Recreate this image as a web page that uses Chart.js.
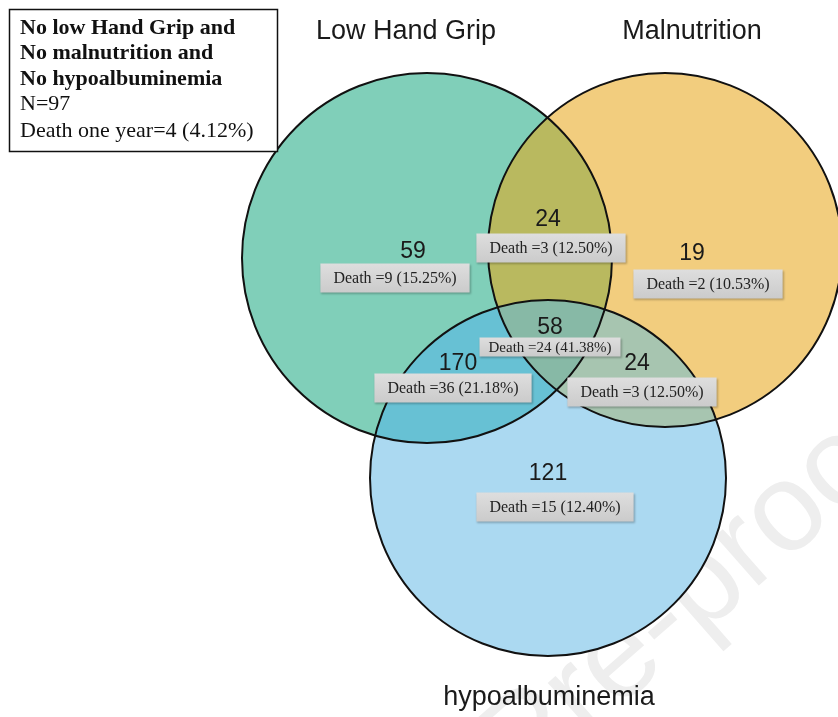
<!DOCTYPE html>
<html>
<head>
<meta charset="utf-8">
<script src="https://cdn.jsdelivr.net/npm/chart.js@4.4.1/dist/chart.umd.min.js"></script>
<style>
html,body{margin:0;padding:0;background:#ffffff;}
#wrap{position:relative;width:838px;height:717px;}
</style>
</head>
<body>
<div id="wrap"><canvas id="c" width="838" height="717"></canvas></div>
<script>
// ---------- DATA ----------
const setNames = ["Low Hand Grip", "Malnutrition", "hypoalbuminemia"];
// regions: G only, G∩M, M only, G∩M∩H, G∩H, M∩H, H only
const regionKeys   = ["G", "GM", "M", "GMH", "GH", "MH", "H"];
const regionCounts = [59, 24, 19, 58, 170, 24, 121];
const regionDeaths = [9, 3, 2, 24, 36, 3, 15];
const regionPcts   = ["15.25%", "12.50%", "10.53%", "41.38%", "21.18%", "12.50%", "12.40%"];
const noneTitle    = ["No low Hand Grip and", "No malnutrition and", "No hypoalbuminemia"];
const noneN        = 97;
const noneDeaths   = 4;
const nonePct      = "4.12%";

// ---------- LAYOUT (geometry, not data) ----------
const circleCenters = [[427, 258], [665, 250], [548, 478]];
const circleRadii   = [185, 177, 178];
const circleFills   = ["#80cfb9", "#f2cd7e", "#abd9f1"];
const overlapFills  = { GM: "#b9b95f", GH: "#67c1d4", MH: "#a7c5b0", GMH: "#87b9a6" };
const setLabelPos   = [[406, 32], [692, 32], [549, 698]];
const countPos      = [[413, 252], [548, 220], [692, 254], [550, 328], [458, 364], [637, 364], [548, 474]];
const boxPos        = [[395, 278], [551, 248], [708, 284], [550, 347], [453, 388], [642, 392], [555, 507]];
const boxSmall      = [false, false, false, true, false, false, false];

const datasets = setNames.map((n, i) => ({
  label: n,
  data: [{ x: circleCenters[i][0], y: circleCenters[i][1], r: circleRadii[i] }],
  backgroundColor: circleFills[i],
  borderWidth: 0,
  hoverBorderWidth: 0,
  hoverRadius: 0,
  clip: false
}));

function circleEls(chart) {
  return [0, 1, 2].map(i => {
    const el = chart.getDatasetMeta(i).data[0];
    return { x: el.x, y: el.y, r: el.options.radius };
  });
}
function clipCircle(ctx, c) {
  ctx.beginPath();
  ctx.arc(c.x, c.y, c.r, 0, Math.PI * 2);
  ctx.clip();
}

const watermark = {
  id: "watermark",
  beforeDatasetsDraw(chart) {
    const ctx = chart.ctx;
    ctx.save();
    ctx.translate(690, 600);
    ctx.rotate(-0.72);
    ctx.fillStyle = "#eeeeee";
    ctx.font = "125px 'Liberation Sans', Arial, sans-serif";
    ctx.textAlign = "center";
    ctx.textBaseline = "middle";
    ctx.fillText("Journal Pre-proof", -215, 0);
    ctx.restore();
  }
};

const venn = {
  id: "venn",
  afterDatasetsDraw(chart) {
    const ctx = chart.ctx;
    const c = circleEls(chart);
    const pairs = [["GM", [0, 1]], ["GH", [0, 2]], ["MH", [1, 2]], ["GMH", [0, 1, 2]]];
    pairs.forEach(([k, idx]) => {
      ctx.save();
      idx.forEach(i => clipCircle(ctx, c[i]));
      ctx.fillStyle = overlapFills[k];
      ctx.fillRect(0, 0, chart.width, chart.height);
      ctx.restore();
    });
    ctx.save();
    ctx.strokeStyle = "#111";
    ctx.lineWidth = 2;
    c.forEach(ci => { ctx.beginPath(); ctx.arc(ci.x, ci.y, ci.r, 0, Math.PI * 2); ctx.stroke(); });
    ctx.restore();

    const xs = chart.scales.x, ys = chart.scales.y;
    ctx.save();
    ctx.fillStyle = "#1a1a1a";
    ctx.font = "27px 'Liberation Sans', Arial, sans-serif";
    ctx.textAlign = "center";
    ctx.textBaseline = "middle";
    setNames.forEach((n, i) => ctx.fillText(n, xs.getPixelForValue(setLabelPos[i][0]), ys.getPixelForValue(setLabelPos[i][1])));
    ctx.font = "23px 'Liberation Sans', Arial, sans-serif";
    regionCounts.forEach((v, i) => ctx.fillText(String(v), xs.getPixelForValue(countPos[i][0]), ys.getPixelForValue(countPos[i][1])));
    regionDeaths.forEach((d, i) => {
      const txt = "Death =" + d + " (" + regionPcts[i] + ")";
      const small = boxSmall[i];
      ctx.font = (small ? "15px" : "16px") + " 'Liberation Serif', 'Times New Roman', serif";
      const w = ctx.measureText(txt).width + (small ? 18 : 26);
      const h = small ? 19 : 29;
      const cx = xs.getPixelForValue(boxPos[i][0]), cy = ys.getPixelForValue(boxPos[i][1]);
      ctx.save();
      ctx.shadowColor = "rgba(0,0,0,0.25)";
      ctx.shadowOffsetX = 1; ctx.shadowOffsetY = 1; ctx.shadowBlur = 2;
      const g = ctx.createLinearGradient(0, cy - h / 2, 0, cy + h / 2);
      g.addColorStop(0, "#dedede"); g.addColorStop(1, "#cbcbcb");
      ctx.fillStyle = g;
      ctx.fillRect(cx - w / 2, cy - h / 2, w, h);
      ctx.restore();
      ctx.fillStyle = "#222";
      ctx.fillText(txt, cx, cy + 1);
    });
    ctx.fillStyle = "#fff";
    ctx.fillRect(9, 9, 269, 143);
    ctx.strokeStyle = "#111";
    ctx.lineWidth = 1.5;
    ctx.strokeRect(9.5, 9.5, 268, 142);
    ctx.fillStyle = "#111";
    ctx.textAlign = "left";
    ctx.font = "bold 22px 'Liberation Serif', 'Times New Roman', serif";
    noneTitle.forEach((t, i) => ctx.fillText(t, 20, 28 + i * 25.5));
    ctx.font = "22px 'Liberation Serif', 'Times New Roman', serif";
    ctx.fillText("N=" + noneN, 20, 104);
    ctx.fillText("Death one year=" + noneDeaths + " (" + nonePct + ")", 20, 131);
    ctx.restore();
  }
};

new Chart(document.getElementById("c"), {
  type: "bubble",
  data: { datasets },
  options: {
    responsive: false,
    animation: false,
    layout: { padding: 0, autoPadding: false },
    plugins: { legend: { display: false }, tooltip: { enabled: false } },
    events: [],
    scales: {
      x: { type: "linear", min: 0, max: 838, display: false },
      y: { type: "linear", min: 0, max: 717, reverse: true, display: false }
    }
  },
  plugins: [watermark, venn]
});
</script>
</body>
</html>
